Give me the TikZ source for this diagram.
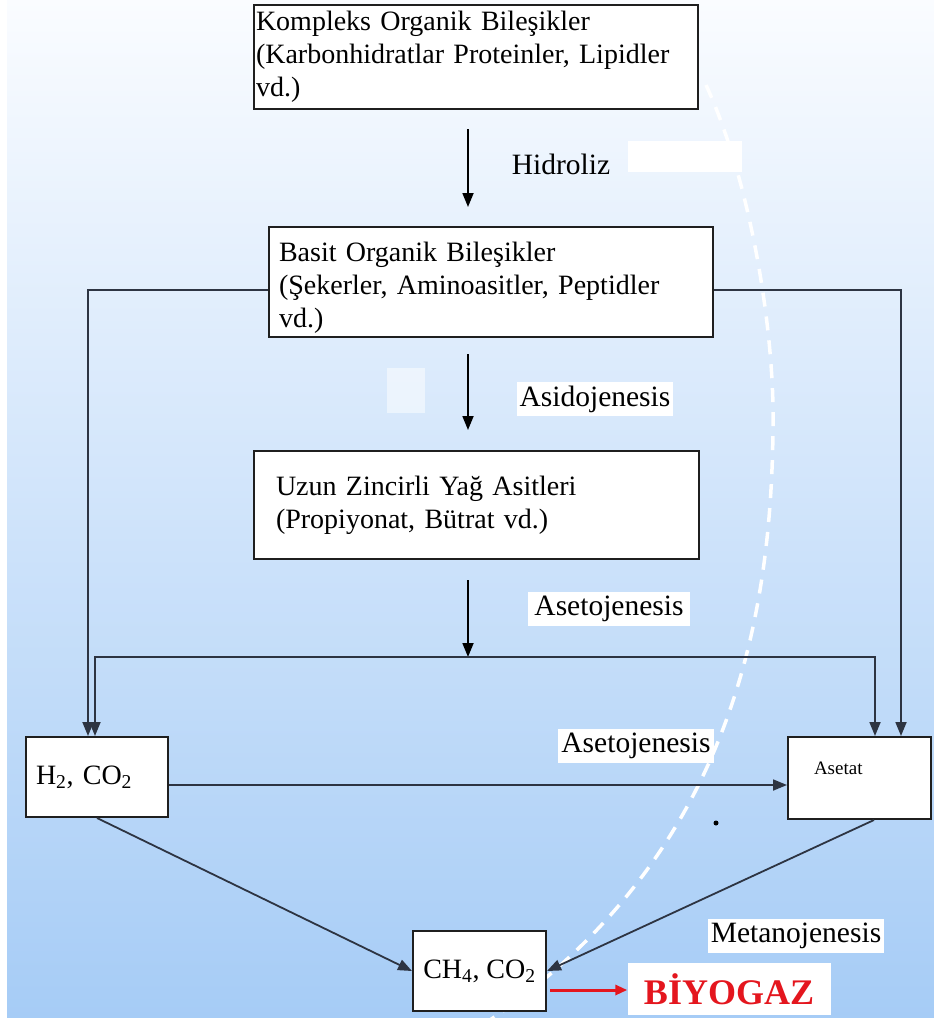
\documentclass[tikz,border=0pt]{standalone}
\usepackage{fontspec}
\setmainfont{Liberation Serif}
\usetikzlibrary{arrows.meta,positioning,calc}
\definecolor{bgtop}{RGB}{250,252,255}
\definecolor{bgmid}{RGB}{220,234,251}
\definecolor{bgbot}{RGB}{166,204,246}
\definecolor{linegray}{RGB}{45,52,66}
\definecolor{biored}{RGB}{228,22,30}

\begin{document}
\begin{tikzpicture}[
  x=1pt, y=-1pt,
  font=\fontsize{28}{33}\selectfont,
  box/.style={draw=black!88, line width=2pt, fill=white, align=left, inner sep=0pt, anchor=north west},
  flow/.style={-{Triangle[length=14pt,width=11pt]}, line width=1.8pt, draw=linegray},
  down/.style={-{Triangle[length=14pt,width=11pt]}, line width=1.8pt, draw=black},
  tag/.style={inner sep=0pt, font=\fontsize{29.5}{32}\selectfont},
  patch/.style={tag, fill=white, inner xsep=3pt, inner ysep=4pt}
]
  \useasboundingbox (0,0) rectangle (934,1025);
  \shade[top color=bgtop, middle color=bgmid, bottom color=bgbot] (7,0) rectangle (934,1017);
  \fill[white] (628,141) rectangle (742,172);
  \fill[white, opacity=.5] (387,368) rectangle (425,413);
  \draw[white, line width=3.5pt, dash pattern=on 14pt off 10pt] (706,85) .. controls (750,180) and (775,330) .. (773,430) .. controls (771,600) and (740,850) .. (490,1020);

  \node[box, minimum width=444pt, minimum height=104pt, inner xsep=2pt, text width=440pt] (kompleks) at (253,4) {Kompleks Organik Bileşikler\\(Karbonhidratlar Proteinler, Lipidler\\vd.)};
  \node[box, minimum width=444pt, minimum height=110pt, inner xsep=10pt, text width=424pt] (basit) at (268,226) {\rule{0pt}{31pt}Basit Organik Bileşikler\\(Şekerler, Aminoasitler, Peptidler\\vd.)};
  \node[box, minimum width=445pt, minimum height=108pt, inner xsep=22pt, text width=401pt] (uzun) at (253,450) {Uzun Zincirli Yağ Asitleri\\(Propiyonat, Bütrat vd.)};
  \node[box, minimum width=142pt, minimum height=80pt, inner xsep=10pt, text width=122pt] (h2) at (25,736) {H\textsubscript{2}, CO\textsubscript{2}};
  \node[box, minimum width=143pt, minimum height=82pt, inner xsep=26pt, text width=91pt, text depth=20pt, font=\fontsize{19}{22}\selectfont] (asetat) at (787,736) {Asetat};
  \node[box, minimum width=133pt, minimum height=80pt, align=center] (ch4) at (412,930) {CH\textsubscript{4}, CO\textsubscript{2}};

  \coordinate (split) at (468,657);

  \node[tag] (hidroliz) at (561,164) {Hidroliz};
  \node[patch] (asidojenesis) at (595,399) {Asidojenesis};
  \node[patch, inner xsep=6pt] (asetojenesis) at (609,609) {Asetojenesis};
  \node[patch] (asetojenesis2) at (636,746) {Asetojenesis};
  \node[patch] (metanojenesis) at (796,936) {Metanojenesis};
  \node[fill=white, minimum width=203pt, minimum height=52pt, inner sep=0pt, text=biored, font=\fontsize{36}{40}\selectfont\bfseries] (biyogaz) at (729,989) {BİYOGAZ};

  \draw[down, shorten <=19pt, shorten >=19pt] (kompleks.south -| split) -- (basit.north -| split);
  \draw[down, shorten <=16pt, shorten >=20pt] (basit.south -| split) -- (uzun.north -| split);
  \draw[down, shorten <=20pt] (uzun.south -| split) -- (split);

  \draw[flow] ([yshift=-8pt]basit.west) -| ([xshift=63pt]h2.north west);
  \draw[flow] ([yshift=-8pt]basit.east) -| ([xshift=-31pt]asetat.north east);
  \draw[flow] (split) -| ([xshift=70pt]h2.north west);
  \draw[flow] (split) -| ([xshift=-57pt]asetat.north east);

  \draw[flow] ([yshift=-8pt]h2.east) -- ([yshift=-8pt]h2.east -| asetat.west);
  \draw[flow] (h2.south) -- (ch4.west);
  \draw[flow] ([xshift=14.5pt]asetat.south) -- (ch4.east);
  \draw[-{Triangle[length=12pt,width=10pt]}, line width=3pt, draw=biored, shorten <=3pt] ([yshift=-19pt]ch4.east) -- ([yshift=-19pt]ch4.east -| biyogaz.west);

  \fill[black] (716,823) circle (2.5);
\end{tikzpicture}
\end{document}
